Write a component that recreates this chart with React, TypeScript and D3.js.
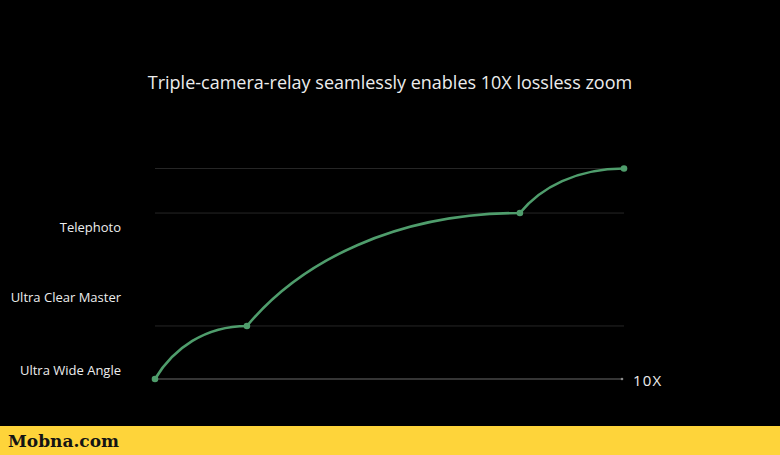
import React from "react";
import * as d3 from "d3";

const zoomLevels = [0, 1.96, 7.78, 10];
const qualityLevels = [0, 1, 3.13, 3.97];
const gridLevels = [1, 3.13, 3.97];
const cameraLabels = ["Ultra Wide Angle", "Ultra Clear Master", "Telephoto"];
const cameraLabelLevels = [0.075, 1.45, 2.77];
const title = "Triple-camera-relay seamlessly enables 10X lossless zoom";
const endLabel = "10X";
const brand = "Mobna.com";

const W = 780;
const H = 455;

export default function App() {
  const x = d3.scaleLinear().domain([0, 10]).range([155, 624]);
  const y = d3.scaleLinear().domain([0, 3.97]).range([379, 168.5]);

  const pts = zoomLevels.map((z, i) => [x(z), y(qualityLevels[i])] as [number, number]);
  const p = d3.path();
  p.moveTo(pts[0][0], pts[0][1]);
  for (let i = 1; i < pts.length; i++) {
    const [x0, y0] = pts[i - 1];
    const [x1, y1] = pts[i];
    const dx = x1 - x0;
    const dy = y1 - y0;
    p.bezierCurveTo(x0 + 0.2 * dx, y0 + 0.58 * dy, x0 + 0.55 * dx, y1, x1, y1);
  }

  const green = "#4f9d6c";

  return (
    <svg
      width={W}
      height={H}
      style={{ position: "absolute", left: 0, top: 0, background: "#000" }}
    >
      <rect x={0} y={0} width={W} height={H} fill="#000" />
      <text
        x={390}
        y={89}
        textAnchor="middle"
        fill="#ededed"
        fontFamily="'Open Sans', sans-serif"
        fontSize={18}
      >
        {title}
      </text>
      {gridLevels.map((g, i) => (
        <line
          key={i}
          x1={x(0)}
          x2={x(10)}
          y1={y(g)}
          y2={y(g)}
          stroke="#262626"
          strokeWidth={1}
        />
      ))}
      <line x1={x(0)} x2={x(10) - 2} y1={y(0)} y2={y(0)} stroke="#6a6a6a" strokeWidth={1} />
      <circle cx={x(10) - 2} cy={y(0)} r={1.3} fill="#8a8a8a" />
      {cameraLabels.map((l, i) => (
        <text
          key={l}
          x={121}
          y={y(cameraLabelLevels[i])}
          textAnchor="end"
          fill="#ededed"
          fontFamily="'Open Sans', sans-serif"
          fontSize={13}
        >
          {l}
        </text>
      ))}
      <text
        x={633}
        y={386}
        fill="#ededed"
        fontFamily="'Open Sans', sans-serif"
        fontSize={15}
        letterSpacing={1.2}
      >
        {endLabel}
      </text>
      <path d={p.toString()} fill="none" stroke={green} strokeWidth={2.6} strokeLinecap="round" />
      {pts.map(([cx, cy], i) => (
        <circle key={i} cx={cx} cy={cy} r={3.3} fill={green} />
      ))}
      <rect x={0} y={426} width={W} height={H - 426} fill="#fed43a" />
      <text
        x={8}
        y={447}
        fill="#141414"
        fontFamily="'DejaVu Serif', 'Liberation Serif', serif"
        fontWeight="bold"
        fontSize={17}
      >
        {brand}
      </text>
    </svg>
  );
}
